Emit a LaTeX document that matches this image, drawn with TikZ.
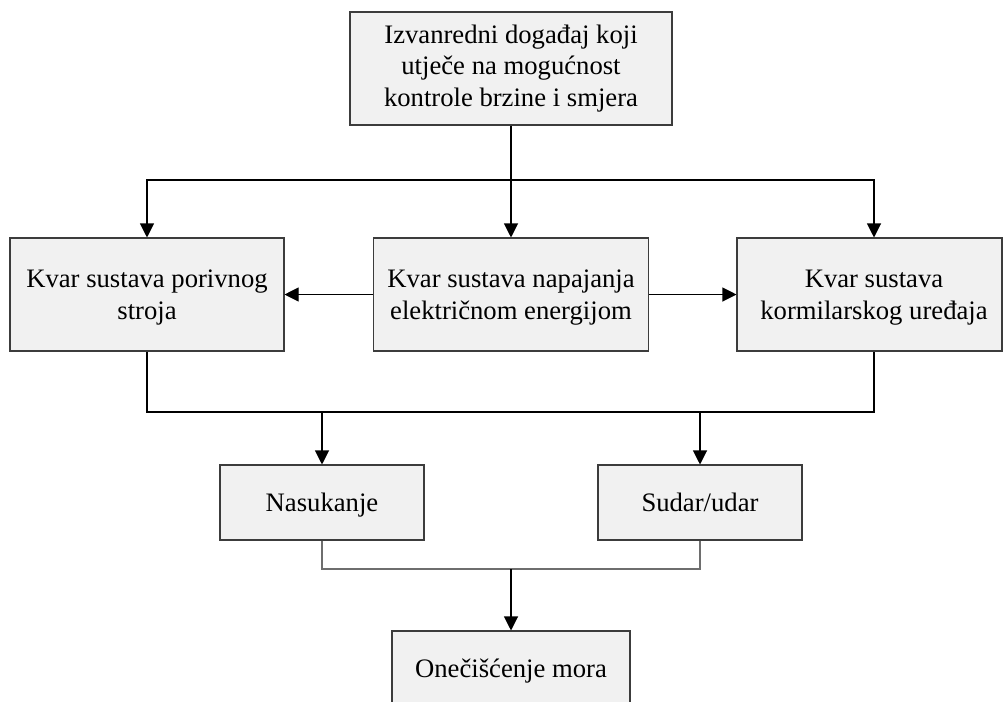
\documentclass[tikz,border=0pt]{standalone}
\usepackage{fontspec}
\setmainfont{Liberation Serif}
\usetikzlibrary{arrows.meta}

\definecolor{boxfill}{HTML}{F1F1F1}
\definecolor{boxline}{HTML}{3C3C3C}
\definecolor{joinline}{HTML}{6E6E6E}

% one drawing unit = 0.75pt
\tikzset{
  block/.style={draw=boxline, line width=0.8pt, fill=boxfill, inner sep=0pt,
    align=center, font=\fontsize{20}{23.5}\selectfont},
  blocktext/.style={inner sep=0pt, align=center, font=\fontsize{20}{23.5}\selectfont},
  oneline/.style={text height=17pt, text depth=4pt},
  link/.style={draw=black, line width=0.8pt},
  arrowlink/.style={link, -{Triangle[length=10.5pt, width=10.5pt]}},
  joinlink/.style={draw=joinline, line width=0.8pt}
}

\begin{document}
\begin{tikzpicture}[x=0.75pt, y=-0.75pt]
  \useasboundingbox (0,0) rectangle (1003,701);

  % event box
  \node[block, minimum width=241.5pt, minimum height=84.75pt] (top) at (511,68.5)
    {Izvanredni događaj koji\\utječe na mogućnost\\kontrole brzine i smjera};

  % failure boxes, their labels set separately
  \node[block, minimum width=205.5pt, minimum height=84.75pt] (left) at (147,294.5) {};
  \node[block, minimum width=206.25pt, minimum height=84.75pt] (mid) at (511,294.5) {};
  \node[block, minimum width=198.75pt, minimum height=84.75pt] (rightbox) at (869.5,294.5) {};
  \node[blocktext] (lefttext) at (147,297.5) {Kvar sustava porivnog\\stroja};
  \node[blocktext] (midtext) at (511,297.5) {Kvar sustava napajanja\\električnom energijom};
  \node[blocktext] (right) at (874,297.5) {Kvar sustava\\kormilarskog uređaja};

  % consequences
  \node[block, oneline, minimum width=153pt, minimum height=56.25pt] (nas) at (322,502.5) {Nasukanje};
  \node[block, oneline, minimum width=153pt, minimum height=56.25pt] (sud) at (700,502.5) {Sudar/udar};
  \node[block, minimum width=178.5pt, minimum height=60pt] (one) at (511,671) {};
  \node[blocktext, oneline] (onetext) at (511,669) {Onečišćenje mora};

  % junction points
  \coordinate (j1) at (511,180);
  \coordinate (j2) at (511,412);
  \coordinate (j3) at (511,569);

  % event to failures
  \draw[link] (top.south) -- (j1);
  \draw[arrowlink] (j1) -| (left.north);
  \draw[arrowlink] (j1) -- (mid.north);
  \draw[arrowlink] (j1) -| (right |- rightbox.north);

  % power failure affects the other two
  \draw[arrowlink] (mid.west) -- (left.east);
  \draw[arrowlink] (mid.east) -- (rightbox.west);

  % failures to consequences
  \draw[link] (left.south) |- (j2) -| (right |- rightbox.south);
  \draw[arrowlink] (nas |- j2) -- (nas.north);
  \draw[arrowlink] (sud |- j2) -- (sud.north);

  % consequences to pollution
  \draw[joinlink] (nas.south) |- (j3) -| (sud.south);
  \draw[arrowlink] (j3) -- (one.north);
\end{tikzpicture}
\end{document}
